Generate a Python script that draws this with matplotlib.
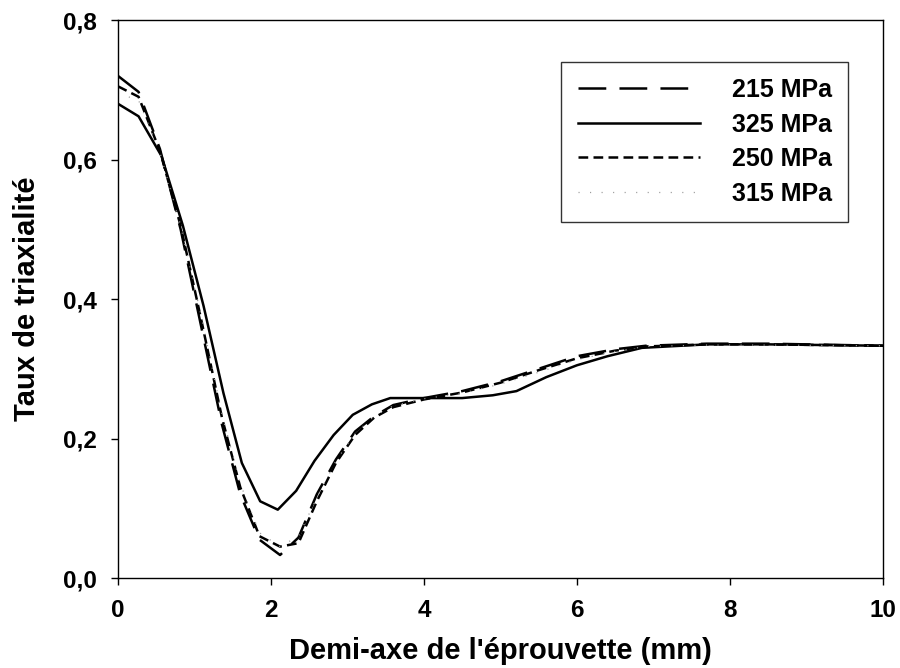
import matplotlib
matplotlib.use("Agg")
import matplotlib.pyplot as plt

plt.rcParams['font.family'] = ['Liberation Sans', 'DejaVu Sans']
plt.rcParams['font.weight'] = 'bold'
plt.rcParams['lines.scale_dashes'] = False

# Demi-axe (mm) and triaxiality for each load level
x_325 = [0, 0.27, 0.57, 0.85, 1.12, 1.38, 1.62, 1.86, 2.09, 2.33, 2.57, 2.82,
         3.07, 3.32, 3.56, 4.0, 4.5, 4.9, 5.21, 5.6, 6.0, 6.4, 6.85, 7.7, 8.5, 10.0]
y_325 = [0.680, 0.662, 0.605, 0.505, 0.390, 0.265, 0.165, 0.110, 0.098, 0.125,
         0.168, 0.205, 0.234, 0.249, 0.258, 0.258, 0.258, 0.262, 0.268, 0.288,
         0.305, 0.318, 0.330, 0.335, 0.335, 0.333]

x_ref = [0, 0.27, 0.55, 0.82, 1.09, 1.36, 1.6, 1.85, 2.12, 2.36, 2.6, 2.85,
         3.1, 3.35, 3.6, 4.0, 4.5, 5.0, 5.5, 6.0, 6.5, 6.9, 7.7, 8.5, 10.0]
y_215 = [0.720, 0.697, 0.615, 0.500, 0.360, 0.220, 0.120, 0.055, 0.033, 0.058,
         0.120, 0.170, 0.210, 0.232, 0.248, 0.258, 0.268, 0.282, 0.300, 0.318,
         0.328, 0.333, 0.336, 0.336, 0.333]
y_250 = [0.705, 0.690, 0.612, 0.505, 0.370, 0.230, 0.130, 0.060, 0.045, 0.050,
         0.110, 0.165, 0.205, 0.230, 0.245, 0.256, 0.266, 0.280, 0.298, 0.315,
         0.326, 0.332, 0.335, 0.335, 0.333]
y_315 = [0.695, 0.685, 0.610, 0.505, 0.375, 0.235, 0.135, 0.065, 0.045, 0.060,
         0.115, 0.168, 0.207, 0.232, 0.247, 0.257, 0.265, 0.278, 0.295, 0.313,
         0.325, 0.332, 0.334, 0.334, 0.333]

x_ticks = [0, 2, 4, 6, 8, 10]
y_ticks = [0.0, 0.2, 0.4, 0.6, 0.8]
y_tick_labels = ['0,0', '0,2', '0,4', '0,6', '0,8']

fig = plt.figure(figsize=(9, 6.68), dpi=100)
ax = fig.add_axes([0.131, 0.1347, 0.850, 0.8353])

ax.plot(x_ref, y_215, color='black', lw=1.8, dashes=(20, 9.5), label='215 MPa')
ax.plot(x_325, y_325, color='black', lw=1.8, label='325 MPa')
ax.plot(x_ref, y_250, color='black', lw=1.8, dashes=(7, 3.8), label='250 MPa')
ax.plot(x_ref, y_315, color='#9a9a9a', lw=0.9, dashes=(0.8, 7.5), label='315 MPa')

ax.set_xlim(0, 10)
ax.set_ylim(0, 0.8)
ax.set_xticks(x_ticks)
ax.set_xticklabels([str(v) for v in x_ticks])
ax.set_yticks(y_ticks)
ax.set_yticklabels(y_tick_labels)
ax.tick_params(direction='out', length=5, width=1, labelsize=17.5, pad=10)
for s in ax.spines.values():
    s.set_linewidth(1)

ax.set_xlabel("Demi-axe de l'éprouvette (mm)", fontsize=21, fontweight='bold', labelpad=11)
ax.set_ylabel("Taux de triaxialité", fontsize=21, fontweight='bold', labelpad=16)

leg = ax.legend(loc='upper right', bbox_to_anchor=(0.955, 0.925),
                prop={'weight': 'bold', 'size': 18}, frameon=True, fancybox=False,
                edgecolor='black', handlelength=4.88, handletextpad=1.3,
                labelspacing=0.42, borderpad=0.65, borderaxespad=0)
leg.get_frame().set_linewidth(1)

fig.savefig('out.png', dpi=100)
